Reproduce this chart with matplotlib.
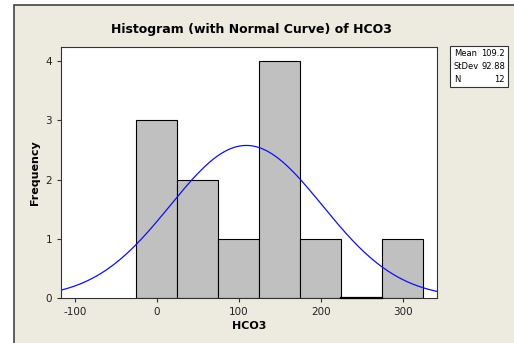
import numpy as np
import matplotlib
matplotlib.use('Agg')
import matplotlib.pyplot as plt
from matplotlib.patches import Rectangle

plt.rcParams['axes.unicode_minus'] = False

# histogram bins (HCO3) and counts
bin_edges = [-25, 25, 75, 125, 175, 225, 275, 325]
counts = [3, 2, 1, 4, 1, 0, 1]

# summary stats shown in the box
mean_val = 109.2
sd_val = 92.88
n_obs = 12

xticks = [-100, 0, 100, 200, 300]
yticks = [0, 1, 2, 3, 4]

bg = '#EDEAE0'
W, H = 514, 343
fig = plt.figure(figsize=(W / 100, H / 100), dpi=100, facecolor='white')

# beige panel with dark frame on left/top
fig.patches.append(Rectangle((14 / W, -0.05), 1.1, (H - 5) / H + 0.05,
                             transform=fig.transFigure, facecolor=bg,
                             edgecolor='#444444', linewidth=1.2, zorder=-10))

ax = fig.add_axes([61 / W, 1 - 298 / H, (437 - 61) / W, (298 - 47) / H])
ax.set_facecolor('white')

widths = np.diff(bin_edges)
lefts = np.array(bin_edges[:-1])
for l, w, c in zip(lefts, widths, counts):
    if c > 0:
        ax.bar(l, c, width=w, align='edge', color='#C0C0C0', edgecolor='black', linewidth=0.8)
    else:
        ax.plot([l, l + w], [0, 0], color='black', linewidth=1.6, clip_on=False, zorder=3)

xs = np.linspace(-117, 342, 400)
binw = widths[0]
ys = n_obs * binw / (sd_val * np.sqrt(2 * np.pi)) * np.exp(-0.5 * ((xs - mean_val) / sd_val) ** 2)
ax.plot(xs, ys, color='#1010F0', linewidth=0.9)

ax.set_xlim(-117, 342)
ax.set_ylim(0, 4.24)
ax.set_xticks(xticks)
ax.set_yticks(yticks)
ax.tick_params(labelsize=7.5, length=3, width=0.8, color='#333333', labelcolor='#222222')
for s in ax.spines.values():
    s.set_linewidth(0.8)
    s.set_color('#333333')

ax.set_xlabel('HCO3', fontsize=8, fontweight='bold', labelpad=3)
ax.set_ylabel('Frequency', fontsize=8, fontweight='bold', labelpad=4)
fig.text(251 / W, 1 - 30 / H, 'Histogram (with Normal Curve) of HCO3',
         ha='center', va='center', fontsize=9, fontweight='bold')

# stats box
fig.patches.append(Rectangle((450 / W, 1 - 87 / H), 58 / W, 41 / H,
                             transform=fig.transFigure, facecolor='white',
                             edgecolor='#333333', linewidth=0.8, zorder=2))
labels = ['Mean', 'StDev', 'N']
values = [f'{mean_val}', f'{sd_val}', f'{n_obs}']
for i, (lab, v) in enumerate(zip(labels, values)):
    y = 1 - (54 + i * 12.5) / H
    fig.text(454 / W, y, lab, fontsize=6, va='center', ha='left', zorder=3)
    fig.text(505 / W, y, v, fontsize=6, va='center', ha='right', zorder=3)

fig.savefig('out.png', dpi=100, facecolor='white')
